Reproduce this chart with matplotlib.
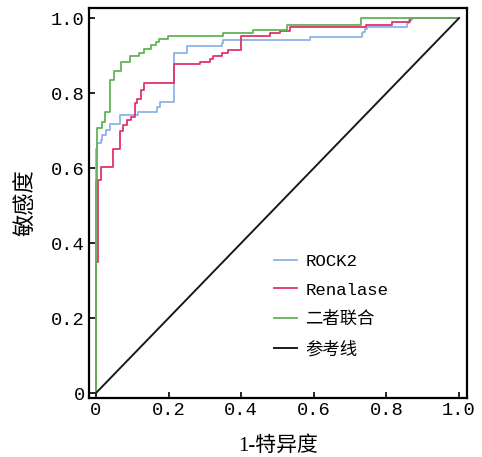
import matplotlib
matplotlib.use("Agg")
import matplotlib.pyplot as plt

plt.rcParams['font.family'] = ['Liberation Serif', 'Noto Sans CJK SC', 'DejaVu Sans']

# ROC step points (1-specificity, sensitivity)
rock2_fpr = [0, 0, 0.004, 0.004, 0.013, 0.013, 0.018, 0.018, 0.028, 0.028, 0.039, 0.039,
             0.066, 0.066, 0.117, 0.117, 0.167, 0.167, 0.176, 0.176, 0.216, 0.216, 0.25, 0.25,
             0.346, 0.346, 0.351, 0.351, 0.590, 0.590, 0.732, 0.732, 0.736, 0.736, 0.741, 0.741,
             0.747, 0.747, 0.856, 0.856, 0.862, 0.862, 0.870, 0.870, 1.0]
rock2_tpr = [0, 0.651, 0.651, 0.666, 0.666, 0.675, 0.675, 0.688, 0.688, 0.701, 0.701, 0.717,
             0.717, 0.741, 0.741, 0.750, 0.750, 0.762, 0.762, 0.777, 0.777, 0.908, 0.908, 0.925,
             0.925, 0.934, 0.934, 0.941, 0.941, 0.950, 0.950, 0.959, 0.959, 0.964, 0.964, 0.972,
             0.972, 0.977, 0.977, 0.986, 0.986, 0.995, 0.995, 1.0, 1.0]

renal_fpr = [0, 0, 0.006, 0.006, 0.014, 0.014, 0.048, 0.048, 0.066, 0.066, 0.075, 0.075,
             0.085, 0.085, 0.098, 0.098, 0.107, 0.107, 0.114, 0.114, 0.123, 0.123, 0.132, 0.132,
             0.216, 0.216, 0.288, 0.288, 0.314, 0.314, 0.323, 0.323, 0.346, 0.346, 0.364, 0.364,
             0.399, 0.399, 0.479, 0.479, 0.508, 0.508, 0.534, 0.534, 0.744, 0.744, 0.815, 0.815,
             0.865, 0.865, 1.0]
renal_tpr = [0, 0.350, 0.350, 0.568, 0.568, 0.603, 0.603, 0.651, 0.651, 0.699, 0.699, 0.715,
             0.715, 0.728, 0.728, 0.735, 0.735, 0.773, 0.773, 0.783, 0.783, 0.808, 0.808, 0.827,
             0.827, 0.877, 0.877, 0.884, 0.884, 0.892, 0.892, 0.899, 0.899, 0.907, 0.907, 0.915,
             0.915, 0.951, 0.951, 0.959, 0.959, 0.966, 0.966, 0.975, 0.975, 0.981, 0.981, 0.990,
             0.990, 1.0, 1.0]

combo_fpr = [0, 0, 0.004, 0.004, 0.016, 0.016, 0.025, 0.025, 0.040, 0.040, 0.050, 0.050,
             0.070, 0.070, 0.094, 0.094, 0.120, 0.120, 0.132, 0.132, 0.152, 0.152, 0.166, 0.166,
             0.175, 0.175, 0.199, 0.199, 0.351, 0.351, 0.432, 0.432, 0.525, 0.525, 0.730, 0.730, 1.0]
combo_tpr = [0, 0.568, 0.568, 0.706, 0.706, 0.723, 0.723, 0.750, 0.750, 0.835, 0.835, 0.859,
             0.859, 0.883, 0.883, 0.899, 0.899, 0.907, 0.907, 0.917, 0.917, 0.928, 0.928, 0.937,
             0.937, 0.943, 0.943, 0.952, 0.952, 0.959, 0.959, 0.968, 0.968, 0.981, 0.981, 1.0, 1.0]

ref_x = [0, 1]
ref_y = [0, 1]

labels = ['ROCK2', 'Renalase', '二者联合', '参考线']
ticks = [0, 0.2, 0.4, 0.6, 0.8, 1.0]
tick_labels = ['0', '0.2', '0.4', '0.6', '0.8', '1.0']

mono = ['Liberation Mono', 'Noto Sans CJK SC']

fig = plt.figure(figsize=(4.82, 4.57), dpi=100)
ax = fig.add_axes([0.1846, 0.1291, 0.7843, 0.8534])

ax.plot(rock2_fpr, rock2_tpr, color='#8db3e8', lw=1.3, label=labels[0])
ax.plot(renal_fpr, renal_tpr, color='#e3336b', lw=1.3, label=labels[1])
ax.plot(combo_fpr, combo_tpr, color='#62b357', lw=1.3, label=labels[2])
ax.plot(ref_x, ref_y, color='#1a1a1a', lw=1.4, label=labels[3])

ax.set_xlim(-0.019, 1.022)
ax.set_ylim(-0.013, 1.027)
ax.set_xticks(ticks)
ax.set_xticklabels(tick_labels, family=mono)
ax.set_yticks(ticks)
ax.set_yticklabels(tick_labels, family=mono)
ax.tick_params(direction='in', length=4, width=1.2, labelsize=13.5, pad=3)
for s in ax.spines.values():
    s.set_linewidth(1.6)

ax.set_xlabel('1-特异度', fontsize=15, labelpad=12)
ax.set_ylabel('敏感度', fontsize=16, labelpad=10)

ax.legend(loc='upper left', bbox_to_anchor=(0.49, 0.37), frameon=False,
          prop={'family': mono, 'size': 12.5},
          handlelength=1.3, handletextpad=0.5, labelspacing=0.78, borderpad=0,
          borderaxespad=0)

fig.savefig('out.png', dpi=100)
